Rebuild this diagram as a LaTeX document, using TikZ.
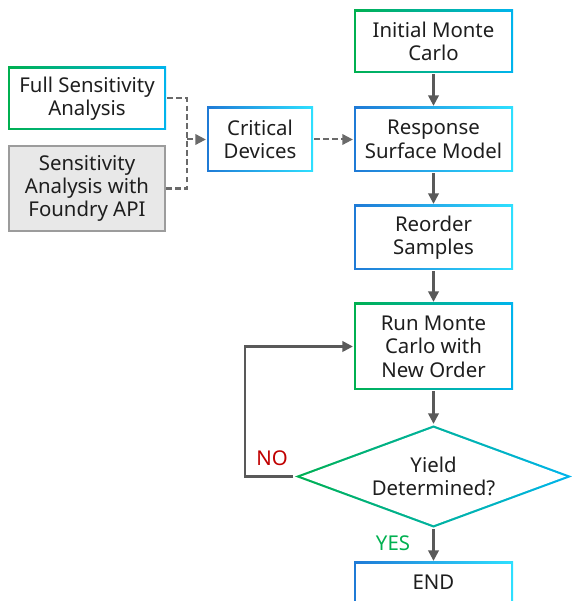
\documentclass[tikz,border=0pt]{standalone}
\usepackage{fontspec}
\setmainfont{Noto Sans}
\usetikzlibrary{arrows.meta, positioning, shapes.geometric, calc}
\definecolor{cgreen}{HTML}{00B050}
\definecolor{ccyan}{HTML}{00B4EE}
\definecolor{cblue}{HTML}{1F7AD6}
\definecolor{caqua}{HTML}{2EE0FF}
\definecolor{cgrey}{HTML}{595959}
\definecolor{ctext}{HTML}{1E1E1E}
\definecolor{cfill}{HTML}{E8E8E8}
\definecolor{cedge}{HTML}{9C9C9C}
\definecolor{cred}{HTML}{C00000}
\tikzset{
  every picture/.style={font=\fontsize{11.6}{13.3}\selectfont, line width=1.3pt},
  box/.style 2 args={rectangle, align=center, text=ctext, inner sep=0pt, minimum width=3.18cm, minimum height=1.26cm,
    path picture={
      \shade[left color=#1, right color=#2] (path picture bounding box.south west) rectangle (path picture bounding box.north east);
      \fill[white] ([shift={(0.045,0.045)}]path picture bounding box.south west) rectangle ([shift={(-0.045,-0.045)}]path picture bounding box.north east);
    }},
  gbox/.style={box={cgreen}{ccyan}},
  bbox/.style={box={cblue}{caqua}},
  apibox/.style={rectangle, align=center, text=ctext, draw=cedge, fill=cfill, inner sep=0pt, minimum width=3.12cm, minimum height=1.70cm},
  decision/.style={diamond, aspect=2.7, align=center, text=ctext, inner sep=0pt, minimum width=5.56cm, minimum height=2.06cm,
    path picture={
      \shade[left color=cgreen, right color=ccyan] (path picture bounding box.south west) rectangle (path picture bounding box.north east);
      \fill[white] ([xshift=0.125cm]path picture bounding box.west) -- ([yshift=-0.047cm]path picture bounding box.north)
        -- ([xshift=-0.125cm]path picture bounding box.east) -- ([yshift=0.047cm]path picture bounding box.south) -- cycle;
    }},
  arrow/.style={-{Triangle[length=0.21cm, width=0.21cm]}, draw=cgrey, line width=1.3pt},
  dashline/.style={draw=cgrey!90, line width=1.15pt, dash pattern=on 3.3pt off 1.8pt},
}

\begin{document}
\begin{tikzpicture}
  \useasboundingbox (0,0) rectangle (11.42,12.02);
  % sensitivity inputs
  \node[gbox, minimum width=3.16cm] (fullsa) at (1.74,10.05) {Full Sensitivity\\Analysis};
  \node[apibox] (foundry) at (1.74,8.25) {Sensitivity\\Analysis with\\Foundry API};
  \coordinate (join) at (3.74,9.23);
  \draw[dashline] (fullsa.east) -| (join);
  \draw[dashline] (foundry.east) -| (join);
  \node[bbox, minimum width=2.12cm, minimum height=1.30cm] (crit) at (5.2,9.23) {Critical\\Devices};
  \draw[arrow, dashline] (join) -- (crit);
  % main flow
  \node[gbox] (init) at (8.67,11.19) {Initial Monte\\Carlo};
  \node[bbox, minimum height=1.30cm] (rsm) at (8.67,9.23) {Response\\Surface Model};
  \node[bbox, minimum height=1.30cm] (reorder) at (8.67,7.27) {Reorder\\Samples};
  \node[gbox, minimum height=1.74cm] (runmc) at (8.67,5.09) {Run Monte\\Carlo with\\New Order};
  \node[decision] (yield) at (8.67,2.49) {Yield\\Determined?};
  \node[bbox, minimum height=0.82cm] (finish) at (8.67,0.37) {END};
  \draw[arrow, dashline] (crit) -- (rsm);
  \draw[arrow] (init) -- (rsm);
  \draw[arrow] (rsm) -- (reorder);
  \draw[arrow] (reorder) -- (runmc);
  \draw[arrow] (runmc) -- (yield);
  \draw[arrow] (yield) -- (finish);
  % retry loop
  \draw[arrow] (yield.west) -- ++(-0.97,0) |- (runmc.west);
  \node[text=cred] (no) at (5.44,2.86) {NO};
  \node[text=cgreen] (yes) at (7.86,1.16) {YES};
\end{tikzpicture}
\end{document}
